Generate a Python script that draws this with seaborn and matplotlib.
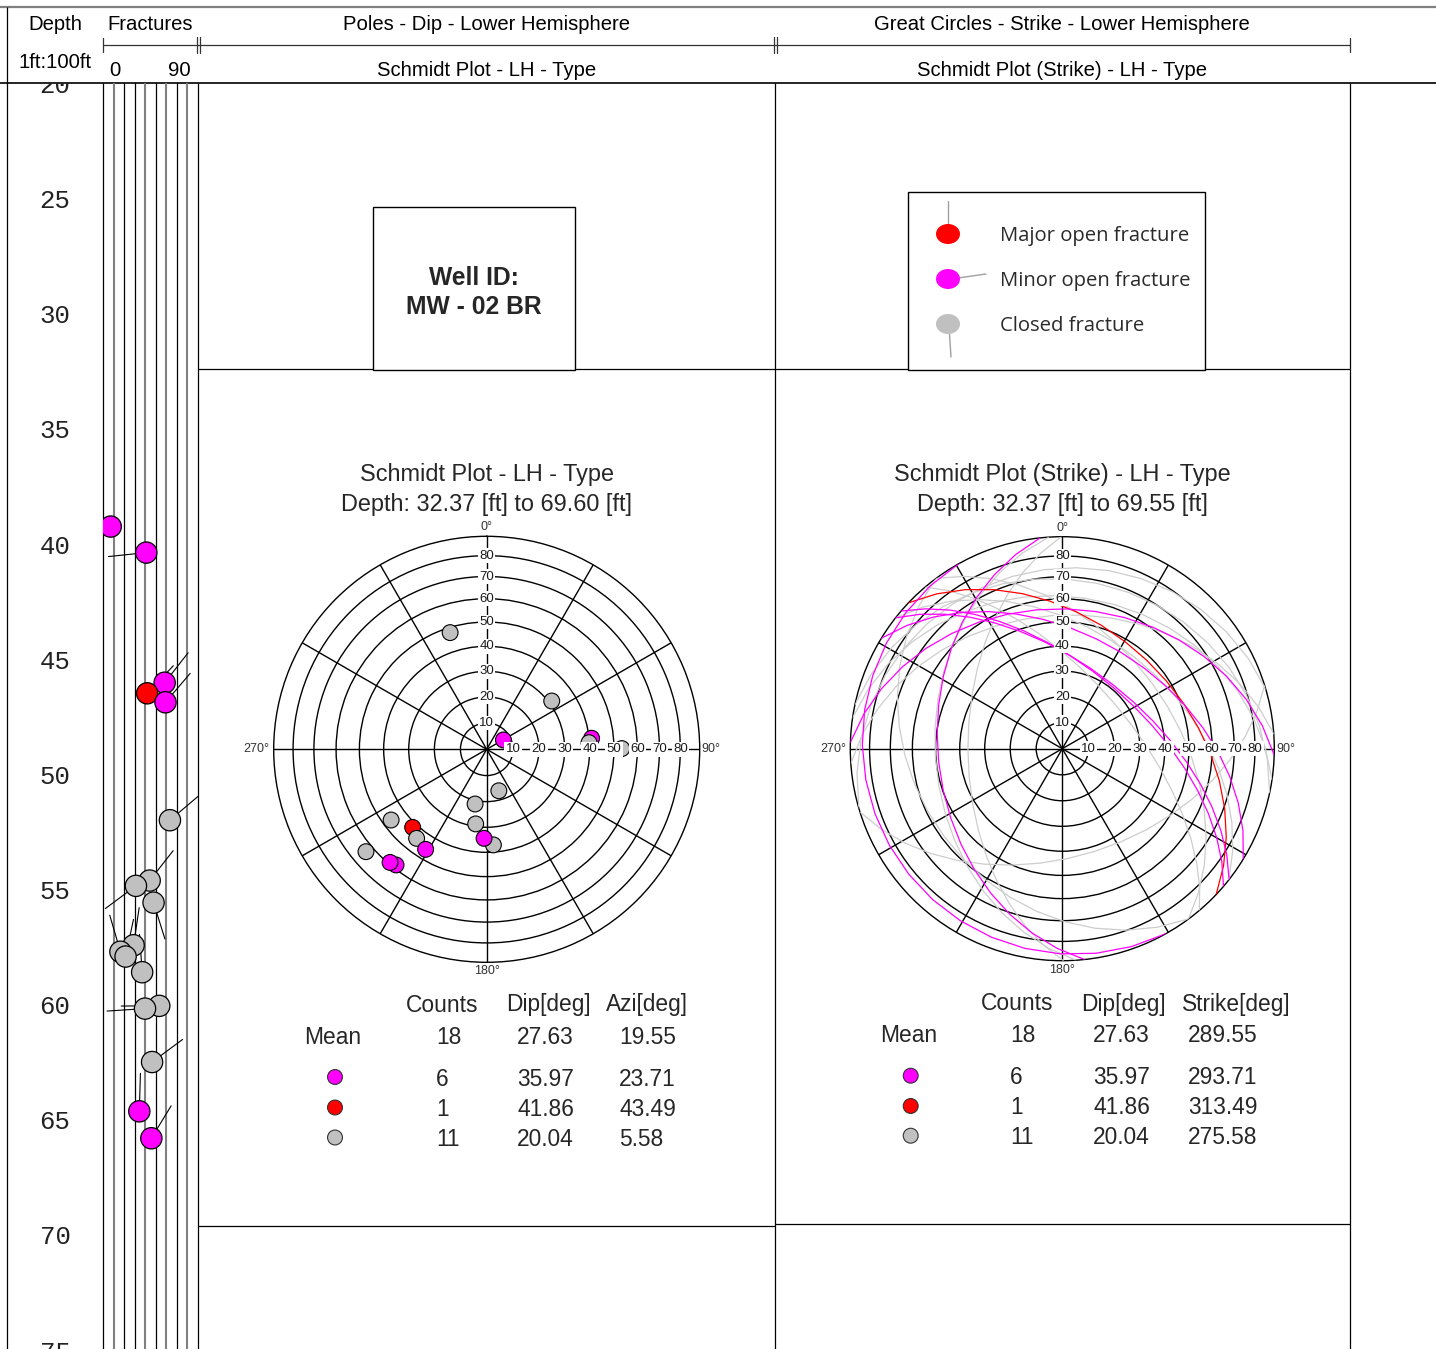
import numpy as np
import pandas as pd
import matplotlib
matplotlib.use("Agg")
import matplotlib.pyplot as plt
from matplotlib.patches import Rectangle, Ellipse
from matplotlib.ticker import NullFormatter
import seaborn as sns

sns.set_theme(style="white")
plt.rcParams["font.family"] = ["Liberation Sans", "DejaVu Sans"]

# ---- fracture picks: depth (ft), dip (deg), dip azimuth (deg), type ----
depth_ft = [39.16, 40.29, 45.94, 46.40, 46.79, 51.91, 54.53, 54.76, 55.49,
            57.34, 57.62, 57.83, 58.51, 59.97, 60.09, 62.41, 64.55, 65.72]
dip_deg = [7.3, 41.0, 58.4, 41.86, 59.2, 63.4, 44.2, 31.2, 47.9,
           29.0, 16.5, 21.4, 37.1, 53.3, 39.8, 46.5, 34.4, 45.8]
dip_azimuth_deg = [240.8, 264.0, 38.1, 43.49, 40.5, 49.7, 38.2, 233.4, 162.6,
                   8.4, 343.7, 12.0, 356.0, 269.7, 266.3, 53.5, 1.7, 31.4]
fracture_type = ["Minor", "Minor", "Minor", "Major", "Minor", "Closed", "Closed",
                 "Closed", "Closed", "Closed", "Closed", "Closed", "Closed",
                 "Closed", "Closed", "Closed", "Minor", "Minor"]

# ---- summary statistics per fracture type ----
summary_types = ["Minor", "Major", "Closed"]
summary_counts = ["6", "1", "11"]
summary_dip = ["35.97", "41.86", "20.04"]
summary_azi = ["23.71", "43.49", "5.58"]
summary_strike = ["293.71", "313.49", "275.58"]
mean_count = "18"
mean_dip = "27.63"
mean_azi = "19.55"
mean_strike = "289.55"

depth_labels = [20, 25, 30, 35, 40, 45, 50, 55, 60, 65, 70, 75]
track_grid = [10, 20, 30, 40, 50, 60, 70, 80]
net_rings = [10, 20, 30, 40, 50, 60, 70, 80]
net_spokes = list(range(0, 360, 30))
legend_labels = ["Major open fracture", "Minor open fracture", "Closed fracture"]

type_colors = {"Major": "#ff0000", "Minor": "#ff00ff", "Closed": "#c0c0c0"}
line_colors = {"Major": "#ff0000", "Minor": "#ff00ff", "Closed": "#cdcdcd"}
track_grid_colors = ["#808080", "black", "black", "#808080", "black",
                     "#808080", "black", "#808080"]

frac = pd.DataFrame({"depth": depth_ft, "dip": dip_deg,
                     "azi": dip_azimuth_deg, "type": fracture_type})

W, H = 1436, 1349
DEPTH_TOP, DEPTH_BOT = 19.90, 74.87
DY = 2.0  # optical offset for centred text

fig = plt.figure(figsize=(W / 100, H / 100), dpi=100)
fig.patch.set_facecolor("white")


def rect_px(x0, y0, x1, y1):
    return [x0 / W, 1 - y1 / H, (x1 - x0) / W, (y1 - y0) / H]


# ---- page frame, header and panel separators (pixel coordinates) ----
bg = fig.add_axes([0, 0, 1, 1], zorder=0)
bg.set_xlim(0, W)
bg.set_ylim(H, 0)
bg.axis("off")

ln = dict(color="black", lw=0.9, solid_capstyle="butt")
bg.plot([0, W], [7, 7], color="#808080", lw=1.6)
bg.plot([0, W], [83, 83], color="black", lw=1.2)
bg.plot([7, 7], [7, H], **ln)
for x in (103, 198, 775, 1350):
    bg.plot([x, x], [83, H], **ln)
bg.plot([103, 1350], [45, 45], color="#333333", lw=0.9)
bg.plot([103, 103], [38, 52], color="#333333", lw=0.9)
bg.plot([1350, 1350], [38, 52], color="#333333", lw=0.9)
for x in (198, 775):
    for dx in (-1.5, 1.5):
        bg.plot([x + dx, x + dx], [37, 53], color="#333333", lw=0.9)
bg.plot([198, 1350], [369, 369], **ln)
bg.plot([198, 775], [1226, 1226], **ln)
bg.plot([775, 1350], [1224, 1224], **ln)

hdr = dict(fontsize=14.6, ha="center", va="center", color="black")
bg.text(55, 23 + DY, "Depth", **hdr)
bg.text(150.5, 23 + DY, "Fractures", **hdr)
bg.text(486.5, 23 + DY, "Poles - Dip - Lower Hemisphere", **hdr)
bg.text(1062, 23 + DY, "Great Circles - Strike - Lower Hemisphere", **hdr)
bg.text(55, 61 + DY, "1ft:100ft", **hdr)
bg.text(115, 68 + DY, "0", **hdr)
bg.text(179, 68 + DY, "90", **hdr)
bg.text(486.5, 68 + DY, "Schmidt Plot - LH - Type", **hdr)
bg.text(1062, 68 + DY, "Schmidt Plot (Strike) - LH - Type", **hdr)

# ---- well id box ----
bg.add_patch(Rectangle((373, 207), 202, 163, fc="white", ec="black", lw=1.0, zorder=2))
bg.text(474, 276 + DY, "Well ID:", fontsize=17.7, fontweight="bold", ha="center", va="center", zorder=3)
bg.text(474, 305 + DY, "MW - 02 BR", fontsize=17.7, fontweight="bold", ha="center", va="center", zorder=3)

# ---- fracture type legend ----
bg.add_patch(Rectangle((908, 192), 297, 178, fc="white", ec="black", lw=1.0, zorder=2))
leg_y = [234, 279, 324]
leg_types = ["Major", "Minor", "Closed"]
tails = [((947.5, 201), (947.5, 226)), ((958, 278), (986, 274)), ((949.5, 334), (951, 357))]
for y, t, (p0, p1), lab in zip(leg_y, leg_types, tails, legend_labels):
    bg.plot([p0[0], p1[0]], [p0[1], p1[1]], color="#a0a0a0", lw=1.0, zorder=3)
    bg.add_patch(Ellipse((948, y), 24, 20, fc=type_colors[t], ec="none", zorder=4))
    bg.text(1000, y + DY, lab, fontsize=14.6, family=["Open Sans", "DejaVu Sans"],
            color="#2a2a2a", ha="left", va="center", zorder=4)

# ---- depth track ----
ax_d = fig.add_axes(rect_px(7, 83, 103, H), zorder=1)
ax_d.set_xlim(0, 1)
ax_d.set_ylim(DEPTH_BOT, DEPTH_TOP)
ax_d.axis("off")
for d in depth_labels:
    ax_d.text(0.5, d - 0.08, f"{d}", family=["Liberation Mono", "DejaVu Sans Mono"],
              fontsize=18.5, color="#222222", ha="center", va="center_baseline",
              clip_on=True)

# ---- fracture tadpole track ----
ax_f = fig.add_axes(rect_px(103, 83, 198, H), zorder=2)
for g, c in zip(track_grid, track_grid_colors):
    ax_f.axvline(g, color=c, lw=0.9 if c == "black" else 1.5, zorder=1)
sns.scatterplot(data=frac, x="dip", y="depth", hue="type", palette=type_colors,
                s=235, edgecolor="black", linewidth=0.9, legend=False,
                ax=ax_f, zorder=3)
ax_f.set_xlim(0, 90)
ax_f.set_ylim(DEPTH_BOT, DEPTH_TOP)
ax_f.axis("off")
tail_len = 38 * fig.dpi / 100
to_disp = ax_f.transData
for d, dp, az in zip(depth_ft, dip_deg, dip_azimuth_deg):
    x0, y0 = to_disp.transform((dp, d))
    x1 = x0 + tail_len * np.sin(np.radians(az))
    y1 = y0 + tail_len * np.cos(np.radians(az))
    dp1, d1 = to_disp.inverted().transform((x1, y1))
    ax_f.plot([dp, dp1], [d, d1], color="black", lw=0.8, zorder=2)


# ---- Schmidt (equal-area) nets ----
def ea_fwd(x):
    return np.sqrt(2) * np.sin(np.radians(np.asarray(x, dtype=float)) / 2)


def ea_inv(y):
    return 2 * np.degrees(np.arcsin(np.clip(np.asarray(y, dtype=float) / np.sqrt(2), -1, 1)))


def setup_net(ax):
    ax.set_theta_zero_location("N")
    ax.set_theta_direction(-1)
    ax.set_rscale("function", functions=(ea_fwd, ea_inv))
    ax.set_rlim(0, 90)
    ax.set_yticks(net_rings)
    ax.set_xticks(np.radians(net_spokes))
    ax.xaxis.set_major_formatter(NullFormatter())
    ax.yaxis.set_major_formatter(NullFormatter())
    ax.tick_params(length=0)
    ax.grid(True, color="black", lw=1.0)
    ax.set_axisbelow(True)
    ax.spines["polar"].set_color("black")
    ax.spines["polar"].set_linewidth(1.0)
    ax.set_facecolor("white")


def finish_net(ax):
    ax.set_rlim(0, 90)
    ax.set_xlabel("")
    ax.set_ylabel("")
    box = dict(boxstyle="square,pad=0.1", fc="white", ec="none")
    for rr in net_rings:
        for th in (0.0, np.pi / 2):
            ax.text(th, rr, f"{rr}", fontsize=9.5, color="#1a1a1a", ha="center",
                    va="center", bbox=box, zorder=6)
    kw = dict(fontsize=9, color="#333333", transform=ax.transAxes)
    ax.text(0.5, 1 + 9 / 426, "0°", ha="center", va="center", **kw)
    ax.text(0.5, -9 / 426, "180°", ha="center", va="center", **kw)
    ax.text(1 + 2 / 426, 0.5, "90°", ha="left", va="center", **kw)
    ax.text(-4 / 426, 0.5, "270°", ha="right", va="center", **kw)


def great_circle(dip, dipdir, n=19):
    s = np.radians(dipdir - 90.0)
    dd = np.radians(dipdir)
    dr = np.radians(dip)
    s_vec = np.array([np.cos(s), np.sin(s), 0.0])
    d_vec = np.array([np.cos(dr) * np.cos(dd), np.cos(dr) * np.sin(dd), np.sin(dr)])
    t = np.radians(np.linspace(0, 180, n))
    v = np.outer(np.cos(t), s_vec) + np.outer(np.sin(t), d_vec)
    plunge = np.degrees(np.arcsin(np.clip(v[:, 2], -1, 1)))
    trend = np.unwrap(np.arctan2(v[:, 1], v[:, 0]))
    return trend, 90.0 - plunge


# poles to fractures
ax_l = fig.add_axes(rect_px(486.7 - 213, 749.3 - 213, 486.7 + 213, 749.3 + 213),
                    projection="polar", zorder=3)
setup_net(ax_l)
poles = frac.assign(theta=np.radians((frac["azi"] + 180.0) % 360.0), r=frac["dip"])
sns.scatterplot(data=poles, x="theta", y="r", hue="type", palette=type_colors,
                s=130, edgecolor="black", linewidth=0.8, legend=False,
                ax=ax_l, zorder=4)
finish_net(ax_l)

# great circles (strike view)
ax_r = fig.add_axes(rect_px(1062.3 - 212, 748.7 - 212, 1062.3 + 212, 748.7 + 212),
                    projection="polar", zorder=3)
setup_net(ax_r)
rows = []
for i, (dp, az, t) in enumerate(zip(dip_deg, dip_azimuth_deg, fracture_type)):
    th, rr = great_circle(dp, az)
    for a, b in zip(th, rr):
        rows.append({"plane": i, "type": t, "theta": a, "r": b})
gc = pd.DataFrame(rows)
sns.lineplot(data=gc, x="theta", y="r", hue="type", units="plane", estimator=None,
             sort=False, palette=line_colors, hue_order=["Closed", "Major", "Minor"],
             lw=0.9, legend=False, ax=ax_r, zorder=3)
finish_net(ax_r)

# ---- titles above the nets ----
tkw = dict(fontsize=16.9, ha="center", va="center")
bg.text(486.7, 473 + DY, "Schmidt Plot - LH - Type", **tkw)
bg.text(486.7, 503 + DY, "Depth: 32.37 [ft] to 69.60 [ft]", **tkw)
bg.text(1062.3, 472 + DY, "Schmidt Plot (Strike) - LH - Type", **tkw)
bg.text(1062.3, 503 + DY, "Depth: 32.37 [ft] to 69.55 [ft]", **tkw)

# ---- statistics tables ----
fs = 16.4


def stats_table(x_mean, x_sym, x_heads, heads, x_cnt, x_dip, x_ang, y_head, y_mean,
                y_rows, mean_ang, row_ang):
    for xh, h in zip(x_heads, heads):
        bg.text(xh, y_head + DY, h, fontsize=fs, ha="left", va="center")
    bg.text(x_mean, y_mean + DY, "Mean", fontsize=fs, ha="left", va="center")
    bg.text(x_cnt, y_mean + DY, mean_count, fontsize=fs, ha="left", va="center")
    bg.text(x_dip, y_mean + DY, mean_dip, fontsize=fs, ha="left", va="center")
    bg.text(x_ang, y_mean + DY, mean_ang, fontsize=fs, ha="left", va="center")
    bg.scatter([x_sym] * 3, y_rows, s=115,
               c=[type_colors[t] for t in summary_types],
               edgecolors="#333333", linewidths=0.8, zorder=3)
    for y, c, dp, ang in zip(y_rows, summary_counts, summary_dip, row_ang):
        bg.text(x_cnt, y + DY, c, fontsize=fs, ha="left", va="center")
        bg.text(x_dip, y + DY, dp, fontsize=fs, ha="left", va="center")
        bg.text(x_ang, y + DY, ang, fontsize=fs, ha="left", va="center")


stats_table(304, 335, [405.5, 506, 605.5], ["Counts", "Dip[deg]", "Azi[deg]"],
            436, 517, 619, 1003, 1035, [1077, 1107.5, 1137.5], mean_azi, summary_azi)
stats_table(880.5, 910.7, [980.5, 1081.5, 1181.5], ["Counts", "Dip[deg]", "Strike[deg]"],
            1010, 1093, 1188, 1002, 1033, [1075.7, 1106, 1135.7], mean_strike, summary_strike)

fig.savefig("out.png", dpi=100, facecolor="white")
